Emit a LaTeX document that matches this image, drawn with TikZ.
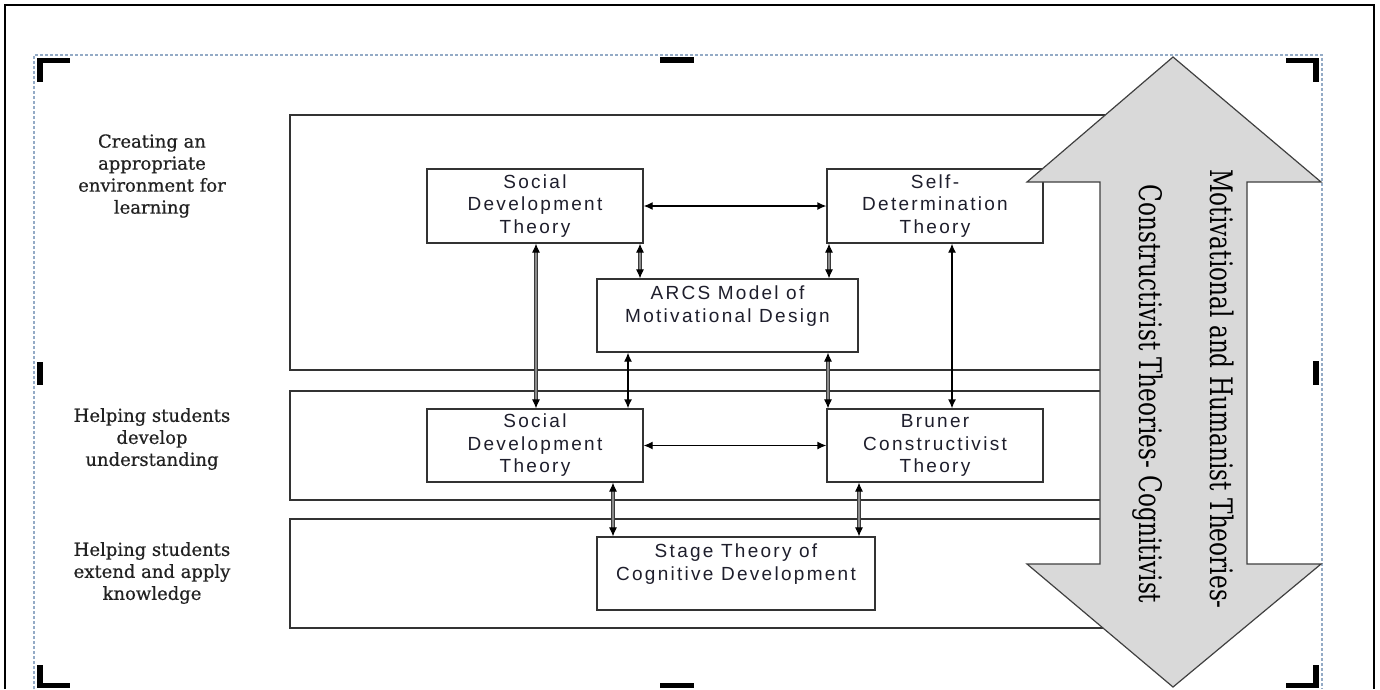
\documentclass[tikz,border=0pt]{standalone}
\usepackage{fontspec}
\usetikzlibrary{arrows.meta}
\newfontfamily\boxfont[LetterSpace=12]{Liberation Sans}
\newfontfamily\labelfont[FakeBold=0.6]{DejaVu Serif}
\newfontfamily\arrowfont[FakeStretch=0.75]{DejaVu Serif}
\definecolor{edge}{HTML}{333333}
\definecolor{boxtext}{HTML}{1E1E2C}
\definecolor{labtext}{HTML}{222222}
\definecolor{dashblue}{HTML}{94ABC6}
\definecolor{arrowfill}{HTML}{D9D9D9}
\definecolor{arrowedge}{HTML}{404040}
\definecolor{thickgray}{HTML}{8A8A8A}
\definecolor{thickedge}{HTML}{3A3A3A}
\begin{document}
\begin{tikzpicture}[x=1pt,y=-1pt,
  box/.style={draw=edge,line width=1.3pt,fill=white,inner sep=0pt,align=center,
    font=\boxfont\fontsize{19}{22.5}\selectfont,text=boxtext},
  band/.style={draw=edge,line width=1.4pt},
  lab/.style={align=center,font=\labelfont\fontsize{18}{22}\selectfont,text=labtext},
  thinlink/.style={<->,>={Latex[length=9pt,width=8pt]},line width=1.3pt,draw=black},
  thicklink/.style={<->,>={Latex[length=9pt,width=8pt,color=black]},line width=0.9pt,
    draw=thickedge,double=thickgray,double distance=1.4pt},
  handle/.style={fill=black},
  arrtext/.style={rotate=-90,font=\arrowfont\fontsize{31}{31}\selectfont,text=black,inner sep=0pt}
]
\useasboundingbox (0,0) rectangle (1380,689);
\fill[white] (0,0) rectangle (1380,689);

% outer frame
\draw[black,line width=2pt] (5,689) -- (5,5) -- (1374,5) -- (1374,689);
% dashed selection frame
\draw[dashblue,line width=1.3pt,dash pattern=on 3pt off 2pt] (34,689) -- (34,55) -- (1322,55) -- (1322,689);

% bands
\draw[band] (1110,115) -- (290,115) -- (290,370) -- (1110,370);
\draw[band] (1110,391) -- (290,391) -- (290,500) -- (1110,500);
\draw[band] (1110,519) -- (290,519) -- (290,628) -- (1110,628);

% left labels
\node[lab] (l1) at (152,176) {Creating an\\appropriate\\environment for\\learning};
\node[lab] (l2) at (152,439) {Helping students\\develop\\understanding};
\node[lab] (l3) at (152,573) {Helping students\\extend and apply\\knowledge};

% boxes
\node[box,minimum width=216pt,minimum height=74pt] (sdt1) at (535,206) {Social\\Development\\Theory};
\node[box,minimum width=216pt,minimum height=74pt] (sdet) at (935,206) {Self-\\Determination\\Theory};
\node[box,minimum width=261pt,minimum height=73pt] (arcs) at (727.5,315.5) {ARCS Model of\\Motivational Design\\\mbox{}};
\node[box,minimum width=216pt,minimum height=73pt] (sdt2) at (535,445.5) {Social\\Development\\Theory};
\node[box,minimum width=216pt,minimum height=73pt] (brun) at (935,445.5) {Bruner\\Constructivist\\Theory};
\node[box,minimum width=278pt,minimum height=73pt] (stage) at (736,573.5) {Stage Theory of\\Cognitive Development\\\mbox{}};

% connectors
\draw[thinlink] (sdt1.east) -- (sdet.west);
\draw[thinlink] (sdt2.east) -- (brun.west);
\draw[thicklink] (640,0 |- sdt1.south) -- (640,0 |- arcs.north);
\draw[thicklink] (829,0 |- sdet.south) -- (829,0 |- arcs.north);
\draw[thicklink] (536,0 |- sdt1.south) -- (536,0 |- sdt2.north);
\draw[thinlink] (628,0 |- arcs.south) -- (628,0 |- sdt2.north);
\draw[thicklink] (828,0 |- arcs.south) -- (828,0 |- brun.north);
\draw[thinlink] (952,0 |- sdet.south) -- (952,0 |- brun.north);
\draw[thicklink] (613,0 |- sdt2.south) -- (613,0 |- stage.north);
\draw[thicklink] (859,0 |- brun.south) -- (859,0 |- stage.north);

% big double arrow
\draw[fill=arrowfill,draw=arrowedge,line width=1.2pt,line join=miter]
  (1173,57) -- (1321,182) -- (1247,182) -- (1247,564) -- (1321,564) -- (1173,687)
  -- (1027,564) -- (1100,564) -- (1100,182) -- (1027,182) -- cycle;
\node[arrtext] (t1) at (1222,389) {Motivational and Humanist Theories-};
\node[arrtext] (t2) at (1148,394) {Constructivist Theories- Cognitivist};

% handles
\fill[handle] (37,58) rectangle (70,63);
\fill[handle] (37,58) rectangle (43,82);
\fill[handle] (660,57) rectangle (694,63);
\fill[handle] (1286,58) rectangle (1319,63);
\fill[handle] (1313,58) rectangle (1319,82);
\fill[handle] (37,362) rectangle (43,385);
\fill[handle] (1313,361) rectangle (1319,385);
\fill[handle] (37,665) rectangle (43,688);
\fill[handle] (37,683) rectangle (70,688);
\fill[handle] (660,683) rectangle (694,688);
\fill[handle] (1313,665) rectangle (1319,688);
\fill[handle] (1286,683) rectangle (1319,688);
\end{tikzpicture}
\end{document}
